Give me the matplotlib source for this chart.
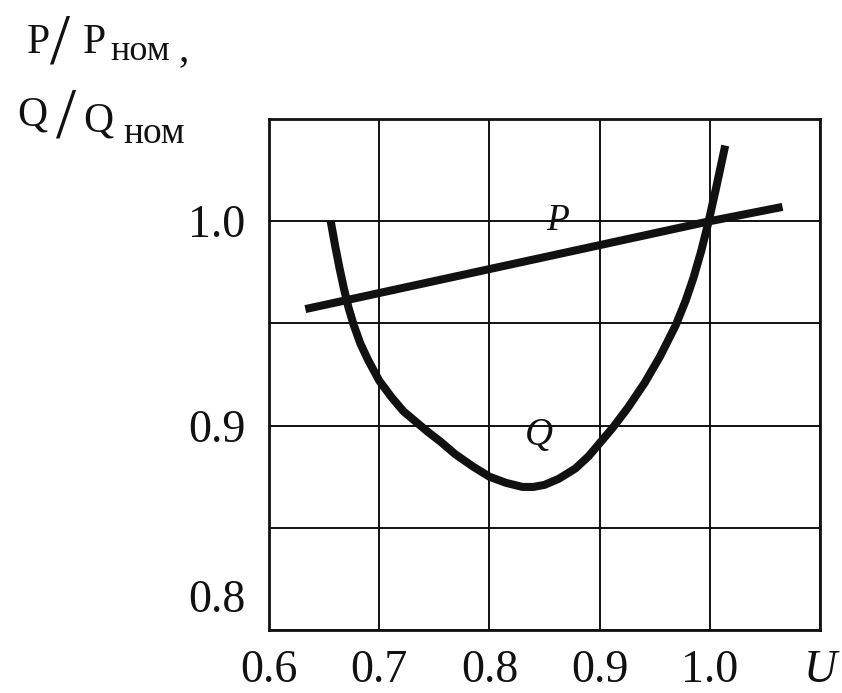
import matplotlib
matplotlib.use("Agg")
import matplotlib.pyplot as plt

plt.rcParams['font.family'] = ['Liberation Serif', 'DejaVu Serif']

# P(U) and Q(U), per-unit values
u_p = [0.633, 1.0, 1.066]
p_vals = [0.957, 1.0, 1.007]

u_q = [0.656, 0.660, 0.664, 0.668, 0.672, 0.677, 0.683, 0.690, 0.700, 0.711,
       0.722, 0.733, 0.744, 0.756, 0.769, 0.785, 0.800, 0.815, 0.830, 0.840,
       0.850, 0.863, 0.878, 0.890, 0.901, 0.912, 0.926, 0.941, 0.955, 0.969,
       0.978, 0.985, 0.992, 0.999, 1.006, 1.014]
q_vals = [1.000, 0.988, 0.977, 0.967, 0.958, 0.949, 0.940, 0.932, 0.922, 0.914,
          0.907, 0.902, 0.897, 0.892, 0.886, 0.880, 0.875, 0.872, 0.870, 0.870,
          0.871, 0.874, 0.879, 0.885, 0.892, 0.899, 0.909, 0.921, 0.934, 0.949,
          0.961, 0.972, 0.985, 1.000, 1.017, 1.037]

x_ticks = [0.6, 0.7, 0.8, 0.9, 1.0, 1.1]
x_labels = ['0.6', '0.7', '0.8', '0.9', '1.0', 'U']
y_ticks = [0.8, 0.85, 0.9, 0.95, 1.0, 1.05]
y_labels = ['', '', '0.9', '', '1.0', '']

W, H = 842, 693
fig = plt.figure(figsize=(W / 100, H / 100), dpi=100)
ax = fig.add_axes([269 / W, 1 - 630 / H, (820 - 269) / W, (630 - 119) / H])

ink = '#111111'

ax.plot(u_p, p_vals, color=ink, lw=5.8, solid_capstyle='butt', zorder=3)
ax.plot(u_q, q_vals, color=ink, lw=5.8, solid_capstyle='butt',
        solid_joinstyle='round', zorder=3)

ax.set_xlim(0.6, 1.1)
ax.set_ylim(0.8, 1.05)
ax.set_xticks(x_ticks)
ax.set_xticklabels(x_labels)
ax.set_yticks(y_ticks)
ax.set_yticklabels(y_labels)
ax.tick_params(length=0, labelsize=33, colors=ink)
ax.tick_params(axis='x', pad=14)
ax.tick_params(axis='y', pad=17)
ax.get_xticklabels()[-1].set_fontstyle('italic')
ax.grid(True, color=ink, lw=1.4)
for s in ax.spines.values():
    s.set_linewidth(2.0)
    s.set_color(ink)

# lower y label sits a bit above the bottom edge
ax.annotate('0.8', xy=(0, 0.8), xycoords=('axes fraction', 'data'),
            xytext=(-17, 21), textcoords='offset points',
            ha='right', va='center', fontsize=33, color=ink)

# curve names
ax.text(0.862, 1.0, 'P', fontsize=27, style='italic', ha='center', va='center',
        color=ink, zorder=4)
ax.text(0.845, 0.895, 'Q', fontsize=28, style='italic', ha='center', va='center',
        color=ink, zorder=4)


def ftext(x, y, s, size, **kw):
    fig.text(x / W, 1 - y / H, s, fontsize=size, color=ink, va='baseline', **kw)


# axis title: P/Pном , Q/Qном
ftext(27, 53, 'P', 30)
ftext(50, 62, '/', 52)
ftext(83, 53, 'P', 30)
ftext(110, 60, 'ном', 26)
ftext(178, 60, ',', 30)

ftext(17, 125, 'Q', 30)
ftext(56, 136, '/', 52)
ftext(83, 131, 'Q', 30)
ftext(123, 143, 'ном', 27)

fig.savefig('out.png', dpi=100, facecolor='white')
